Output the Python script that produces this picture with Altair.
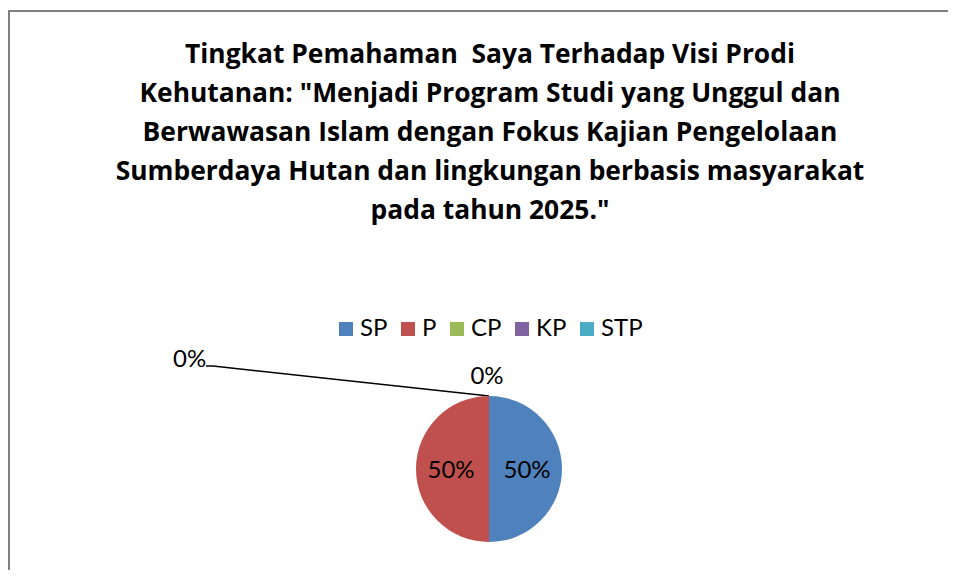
import altair as alt
import pandas as pd

categories = ["SP", "P", "CP", "KP", "STP"]
values = [50, 50, 0, 0, 0]
colors = ["#4F81BD", "#C0504D", "#9BBB59", "#8064A2", "#4BACC6"]
title_lines = [
    "Tingkat Pemahaman\u00a0 Saya Terhadap Visi Prodi",
    "Kehutanan: \"Menjadi Program Studi yang Unggul dan",
    "Berwawasan Islam dengan Fokus Kajian Pengelolaan",
    "Sumberdaya Hutan dan lingkungan berbasis masyarakat",
    "pada tahun 2025.\"",
]

FONT = "Lato"
TFONT = "Open Sans"
total = sum(values)
df = pd.DataFrame({
    "cat": categories,
    "value": values,
    "idx": list(range(len(categories))),
    "pct": [f"{round(v / total * 100)}%" for v in values],
})

CX, CY, R = 481, 461, 73
W, H = 940, 562

base = alt.Chart(df)

pie = base.mark_arc(outerRadius=R).encode(
    theta=alt.Theta("value:Q", stack=True),
    color=alt.Color(
        "cat:N",
        scale=alt.Scale(domain=categories, range=colors),
        sort=categories,
        legend=alt.Legend(
            title=None,
            orient="none",
            direction="horizontal",
            legendX=326,
            legendY=309,
            symbolType="square",
            symbolSize=196,
            symbolStrokeWidth=0,
            labelFont=FONT,
            labelFontSize=24,
            labelColor="#000000",
            labelOffset=2,
            columnPadding=8,
        ),
    ),
    order=alt.Order("idx:Q"),
    x=alt.value(CX),
    y=alt.value(CY),
)

inner_labels = base.transform_filter(alt.datum.value > 0).mark_text(
    radius=38, font=FONT, fontSize=24, color="#000000", dy=2
).encode(
    theta=alt.Theta("value:Q", stack=True),
    order=alt.Order("idx:Q"),
    text="pct:N",
    x=alt.value(CX),
    y=alt.value(CY),
)

zero_df = pd.DataFrame({"t": ["0%"]})
top_zero = alt.Chart(zero_df).mark_text(
    font=FONT, fontSize=24, color="#000000", baseline="alphabetic", align="center"
).encode(text="t:N", x=alt.value(479), y=alt.value(376))

left_zero = alt.Chart(zero_df).mark_text(
    font=FONT, fontSize=24, color="#000000", baseline="alphabetic", align="left"
).encode(text="t:N", x=alt.value(165), y=alt.value(359))

leader1 = alt.Chart(zero_df).mark_rule(color="#000000", strokeWidth=1.5).encode(
    x=alt.value(198), x2=alt.value(205), y=alt.value(358), y2=alt.value(358)
)
leader2 = alt.Chart(zero_df).mark_rule(color="#000000", strokeWidth=1.5).encode(
    x=alt.value(205), x2=alt.value(CX), y=alt.value(358), y2=alt.value(CY - R)
)

title = alt.Chart(zero_df).mark_text(
    text=title_lines,
    font=TFONT,
    fontSize=26.4,
    fontWeight="bold",
    color="#000000",
    lineHeight=39,
    baseline="alphabetic",
    align="center",
).encode(x=alt.value(482), y=alt.value(55))

border_left = alt.Chart(zero_df).mark_rule(color="#808080", strokeWidth=2).encode(
    x=alt.value(1), x2=alt.value(1), y=alt.value(2), y2=alt.value(H)
)
border_top = alt.Chart(zero_df).mark_rule(color="#808080", strokeWidth=2).encode(
    x=alt.value(0), x2=alt.value(W), y=alt.value(3), y2=alt.value(3)
)

chart = alt.layer(
    border_left, border_top, title, leader1, leader2, pie, inner_labels, top_zero, left_zero
).properties(
    width=W,
    height=H,
    autosize=alt.AutoSizeParams(type="none"),
    padding=0,
).configure_view(strokeWidth=0, strokeOpacity=0)

chart.save("out.html", embed_options={"renderer": "svg", "actions": False})
